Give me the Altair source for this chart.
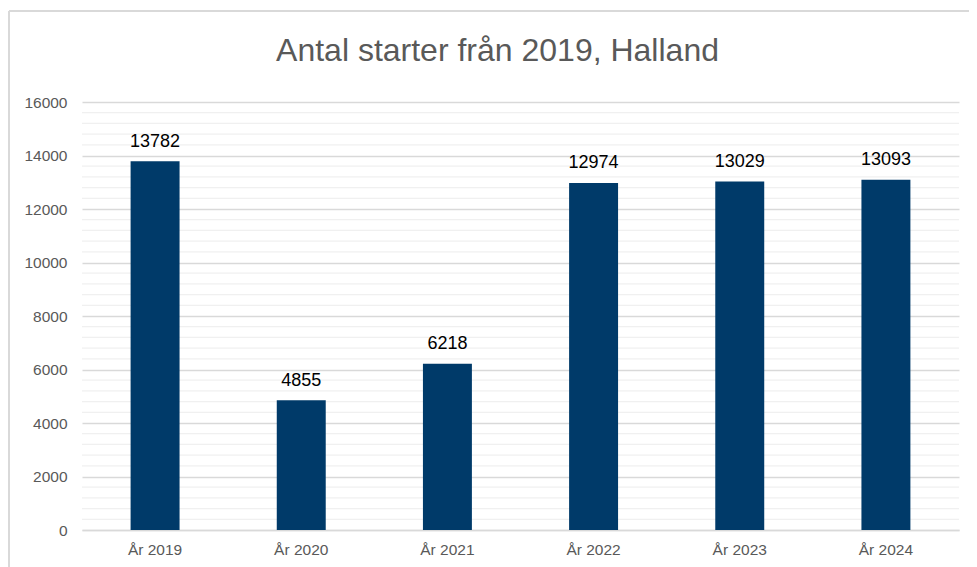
import altair as alt
import pandas as pd

categories = ["År 2019", "År 2020", "År 2021", "År 2022", "År 2023", "År 2024"]
values = [13782, 4855, 6218, 12974, 13029, 13093]
major_ticks = list(range(0, 16001, 2000))
minor_ticks = [v for v in range(400, 16000, 400) if v % 2000 != 0]

df = pd.DataFrame({"cat": categories, "val": values})
minor_df = pd.DataFrame({"v": minor_ticks})
FONT = "Liberation Sans"
GREY = "#595959"

yscale = alt.Scale(domain=[0, 16000], nice=False, zero=True)
xscale = alt.Scale(paddingInner=0.665, paddingOuter=0.3325)
yaxis = alt.Axis(values=major_ticks, format="d", domain=False, ticks=False, gridColor="#d9d9d9",
                 gridWidth=1.5, labelColor=GREY, labelFont=FONT, labelFontSize=15.5,
                 labelPadding=15)

minor = alt.Chart(minor_df).mark_rule(color="#f0f0f0", strokeWidth=1.3).encode(
    y=alt.Y("v:Q", scale=yscale, axis=yaxis, title=None),
    x=alt.value(0), x2=alt.value(877),
)

bars = alt.Chart(df).mark_bar(color="#003A69").encode(
    x=alt.X("cat:N", sort=categories, scale=xscale, title=None,
            axis=alt.Axis(labelAngle=0, ticks=False, domainColor="#d9d9d9", domainWidth=1.5,
                          labelColor=GREY, labelFont=FONT, labelFontSize=15.5, labelPadding=12)),
    y=alt.Y("val:Q", scale=yscale, title=None, axis=yaxis),
)

labels = alt.Chart(df).mark_text(font=FONT, fontSize=18, color="#000000", baseline="alphabetic", dy=-14.5).encode(
    x=alt.X("cat:N", sort=categories, scale=xscale),
    y=alt.Y("val:Q", scale=yscale),
    text=alt.Text("val:Q", format="d"),
)

border_top = alt.Chart(df).mark_rule(color="#d9d9d9", strokeWidth=1.5).encode(
    x=alt.value(-73), x2=alt.value(900), y=alt.value(-91)
)
border_left = alt.Chart(df).mark_rule(color="#d9d9d9", strokeWidth=1.5).encode(
    x=alt.value(-73), y=alt.value(-91), y2=alt.value(480)
)

chart = alt.layer(minor, bars, labels, border_top, border_left).properties(
    width=877, height=428,
    title=alt.TitleParams("Antal starter från 2019, Halland", font=FONT, fontSize=32,
                          fontWeight="normal", color=GREY, anchor="middle", dx=-23,
                          offset=0, baseline="alphabetic", dy=82.5),
    autosize=alt.AutoSizeParams(type="none"),
    padding={"left": 74, "top": 94, "right": 10, "bottom": 37},
).configure_view(stroke=None)

chart.save("out.html", embed_options={"renderer": "svg", "actions": False})
